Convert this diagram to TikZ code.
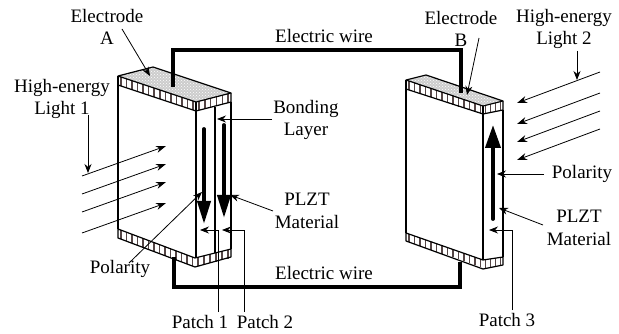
\documentclass[tikz,border=0pt]{standalone}
\usepackage{fontspec}
\setmainfont{Liberation Serif}
\usetikzlibrary{arrows.meta,patterns,calc}
\definecolor{bandc}{RGB}{85,70,70}
\tikzset{
  lbl/.style={inner sep=0pt,align=center,font=\fontsize{19}{22.5}\selectfont},
  edge/.style={line width=1.2pt,line join=round},
  wire/.style={line width=4.3pt,line join=miter},
  lead/.style={line width=0.8pt,-{Stealth[length=9pt,width=7pt]}},
  ray/.style={line width=0.8pt,-{Stealth[length=10pt,width=7pt]}},
  pol/.style={line width=3.8pt,line cap=round,-{Triangle[length=23pt,width=13pt]}},
  polr/.style={line width=3.8pt,line cap=round,-{Triangle[length=23pt,width=15pt]}},
}
\newcommand{\bandticks}[6]{%
  \foreach \k in {1,...,#6}{
    \pgfmathsetmacro{\frc}{(\k-0.5)/#6}
    \draw[bandc,line width=1.5pt] ($(#1,#2)!\frc!(#4,#5)$) -- ++(0,#3-#2);
  }
}
\begin{document}
\begin{tikzpicture}[x=1pt,y=-1pt]
\useasboundingbox (0,0) rectangle (619,334);
\coordinate (la1) at (122,29);  \coordinate (la2) at (150,76);
\coordinate (lb1) at (479,38);  \coordinate (lb2) at (467,95);
\fill[gray!40] (118,76) -- (153,67) -- (231,93) -- (196,102) -- cycle;
\fill[pattern=crosshatch dots,pattern color=white] (118,76) -- (153,67) -- (231,93) -- (196,102) -- cycle;
\bandticks{118}{76}{85}{196}{102}{14}
\bandticks{196}{102}{111}{231}{93}{6}
\draw[edge] (118,76) -- (153,67) -- (231,93) -- (196,102) -- cycle;
\draw[edge] (118,85) -- (196,111) -- (231,102) -- (231,93);
\draw[edge] (118,76) -- (118,229);
\draw[edge] (196,102) -- (196,258);
\draw[edge] (231,102) -- (231,249);
\draw[line width=2.2pt] (215,107) -- (215,253);
\bandticks{118}{229}{238}{195}{258}{14}
\bandticks{195}{258}{267}{231}{249}{6}
\draw[edge] (118,229) -- (195,258) -- (231,249) -- (231,257) -- (195,267) -- (118,238) -- cycle;
\draw[pol] (204,129) -- (204,224);
\draw[pol] (224,125) -- (224,218);
\fill[gray!40] (406,80) -- (426,75) -- (503,101) -- (483,106) -- cycle;
\fill[pattern=crosshatch dots,pattern color=white] (406,80) -- (426,75) -- (503,101) -- (483,106) -- cycle;
\bandticks{406}{80}{89}{483}{106}{14}
\bandticks{483}{106}{114}{503}{101}{4}
\draw[edge] (406,80) -- (426,75) -- (503,101) -- (483,106) -- cycle;
\draw[edge] (406,89) -- (483,114) -- (503,110) -- (503,101);
\draw[edge] (406,80) -- (406,233);
\draw[edge] (483,106) -- (483,260);
\draw[edge] (503,110) -- (503,257);
\bandticks{406}{233}{241}{483}{260}{14}
\bandticks{483}{260}{269}{503}{257}{4}
\draw[edge] (406,233) -- (483,260) -- (503,257) -- (503,265) -- (483,269) -- (406,241) -- cycle;
\draw[polr] (493,219) -- (493,125);
\coordinate (wa) at (173,87); \coordinate (wb) at (461,93);
\coordinate (wc) at (174,257); \coordinate (wd) at (460,262);
\draw[wire] (wa) -- (wa |- 0,50) -- (wb |- 0,50) -- (wb);
\draw[wire] (wc) -- (wc |- 0,287) -- (wd |- 0,287) -- (wd);
\node[lbl] (elA) at (107,27) {Electrode\\A};
\node[lbl] (elB) at (461,29) {Electrode\\B};
\node[lbl] (hl1) at (62,99) {High-energy\\Light 1};
\node[lbl] (hl2) at (564,29) {High-energy\\Light 2};
\node[lbl] (w1) at (324,36) {Electric wire};
\node[lbl] (w2) at (324,273) {Electric wire};
\node[lbl] (bond) at (306,120) {Bonding\\Layer};
\node[lbl] (plztl) at (307,211) {PLZT\\Material};
\node[lbl] (plztr) at (579,228) {PLZT\\Material};
\node[lbl] (poll) at (120,269) {Polarity};
\node[lbl] (polr) at (582,174) {Polarity};
\node[lbl] (p1) at (200,322) {Patch 1};
\node[lbl] (p2) at (265,322) {Patch 2};
\node[lbl] (p3) at (507,320) {Patch 3};
\draw[lead] (la1) -- (la2);
\draw[lead] (lb1) -- (lb2);
\coordinate (bt) at (217,119); \draw[lead] (272,119) -- (bt);
\coordinate (ml) at (230,195); \draw[lead] (273,211) -- (ml);
\coordinate (pl) at (202,192); \draw[lead] (129,263) -- (pl);
\coordinate (t1) at (200,230); \draw[lead] (218,312) -- (218,230) -- (t1);
\coordinate (t2) at (222,230); \draw[lead] (244,312) -- (244,230) -- (t2);
\coordinate (t3) at (489,230); \draw[lead] (512,310) -- (512,230) -- (t3);
\coordinate (rp) at (497,174); \draw[lead] (544,174) -- (rp);
\coordinate (rm) at (499,208); \draw[lead] (543,225) -- (rm);
\coordinate (h1) at (88,173); \draw[lead] (88,115) -- (h1);
\coordinate (h2) at (577,80); \draw[lead] (577,51) -- (h2);
\foreach \y/\s in {146/176,164/194,182/212,203/233}{
  \coordinate (rt) at (166,\y);
  \draw[ray] (82,\s) -- (rt);
}
\foreach \y/\s in {103/72,124/93,142/111,160/129}{
  \coordinate (rt) at (517,\y);
  \draw[ray] (600,\s) -- (rt);
}
\end{tikzpicture}
\end{document}
